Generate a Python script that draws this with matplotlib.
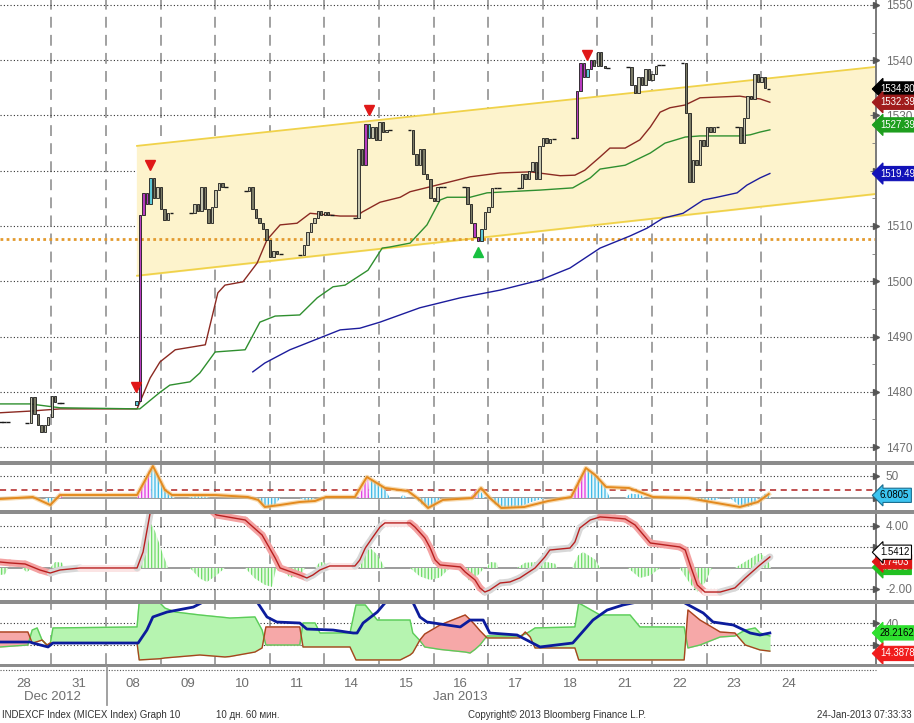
import matplotlib
matplotlib.use("Agg")
import matplotlib.pyplot as plt
from matplotlib.collections import LineCollection
from matplotlib.patches import Rectangle
from matplotlib.lines import Line2D
import numpy as np

W, H = 914, 723

plt.rcParams["font.family"] = ["Liberation Sans Narrow", "Liberation Sans", "DejaVu Sans"]
plt.rcParams["hatch.linewidth"] = 0.9

# ---------------------------------------------------------------- data
day_labels = ["28", "31", "08", "09", "10", "11", "14", "15", "16", "17",
              "18", "21", "22", "23", "24"]

# hourly bars: one list of closes per session (main session + evening ticks)
session_day = [-1, 0, 2, 3, 4, 5, 6, 7, 8, 9, 10, 11, 12, 13]
session_open = [1475.8, 1474.3, 1477.6, 1512.4, 1516.3, 1504.8, 1511.5,
                1527.4, 1517.0, 1516.9, 1525.9, 1538.8, 1539.5, 1528.0]
session_close = [
    [1476.0, 1475.5, 1475.0, 1474.8, 1475.2, 1474.6, 1474.4, 1474.5, 1474.5, 1474.5, 1474.5],
    [1474.3, 1479.0, 1476.0, 1474.0, 1472.8, 1474.0, 1475.5, 1479.3, 1478.2, 1478.0, 1478.0],
    [1478.3, 1512.0, 1516.0, 1514.0, 1518.6, 1515.0, 1517.0, 1513.0, 1511.0, 1512.4, 1512.4],
    [1512.4, 1514.0, 1512.8, 1517.0, 1513.0, 1510.5, 1513.5, 1516.5, 1517.8, 1517.0, 1517.0],
    [1516.3, 1517.0, 1513.0, 1511.5, 1510.5, 1509.5, 1507.5, 1504.3, 1505.5, 1505.0, 1505.0],
    [1504.8, 1506.5, 1509.0, 1510.5, 1511.5, 1512.8, 1512.0, 1512.5, 1512.0, 1512.0],
    [1511.5, 1524.0, 1521.0, 1528.5, 1526.0, 1528.0, 1525.5, 1528.8, 1527.0, 1527.4, 1527.4],
    [1527.4, 1523.0, 1521.0, 1524.0, 1519.5, 1518.5, 1515.0, 1514.5, 1517.0, 1517.0, 1517.0],
    [1517.0, 1514.0, 1510.5, 1508.0, 1507.3, 1509.5, 1512.5, 1513.5, 1516.8, 1516.8, 1516.8],
    [1516.9, 1519.5, 1518.5, 1520.0, 1521.5, 1518.5, 1524.5, 1526.0, 1525.0, 1525.8, 1525.8],
    [1525.9, 1534.5, 1539.5, 1537.0, 1538.5, 1540.0, 1539.0, 1541.5, 1539.0, 1538.6, 1538.6],
    [1538.8, 1535.5, 1534.0, 1537.0, 1535.5, 1538.5, 1536.5, 1537.5, 1539.0, 1539.1, 1539.1],
    [1539.5, 1530.5, 1518.0, 1522.0, 1521.0, 1525.5, 1524.5, 1528.0, 1527.0, 1528.0, 1528.0],
    [1528.0, 1525.0, 1529.5, 1533.5, 1533.0, 1537.5, 1536.0, 1537.0, 1535.0, 1534.8],
]
purple_bars = [(2, 1), (2, 2), (2, 3), (6, 3), (8, 3), (8, 4), (10, 1), (10, 2), (10, 3), (10, 5)]
cyan_bars = [(2, 0), (2, 4), (6, 4), (8, 5), (10, 4)]
signal_down = [(2, 0), (2, 4), (6, 4), (10, 4)]
signal_up = [(8, 4)]

channel_x = [2.07, 15.6]
channel_top = [1524.5, 1538.8]
channel_bottom = [1501.0, 1515.8]
support_level = 1507.6

ma_fast_x = [-0.44, 0.11, 0.66, 2.07, 2.31, 2.49, 2.77, 3.32, 3.55, 3.68, 4.01, 4.27, 4.45,
             4.69, 5.00, 5.24, 5.79, 6.10, 6.19, 6.52, 6.89, 7.07, 7.44, 8.17, 8.72, 9.27,
             9.82, 10.09, 10.27, 10.55, 10.73, 11.01, 11.28, 11.47, 11.65, 11.83, 12.11,
             12.38, 12.75, 13.11, 13.30, 13.48, 13.66]
ma_fast = [1476.2, 1476.5, 1476.9, 1476.9, 1482.5, 1485.4, 1487.6, 1488.5, 1497.9, 1499.3,
           1499.9, 1503.3, 1507.5, 1510.2, 1510.5, 1512.3, 1511.8, 1511.8, 1512.5, 1514.3,
           1515.2, 1516.2, 1517.1, 1518.9, 1519.6, 1519.8, 1519.1, 1519.2, 1520.1, 1522.5,
           1524.1, 1524.1, 1525.6, 1527.9, 1530.6, 1531.4, 1531.9, 1533.2, 1533.35, 1533.5,
           1533.2, 1533.0, 1532.4]
ma_mid_x = [-0.44, 0.11, 0.66, 2.12, 2.49, 2.67, 3.04, 3.22, 3.50, 4.05, 4.32, 4.60, 5.05,
            5.37, 5.66, 5.88, 6.30, 6.56, 6.70, 7.07, 7.38, 7.62, 7.75, 8.17, 8.48, 8.85,
            9.45, 10.05, 10.37, 10.55, 11.01, 11.47, 11.74, 12.11, 12.38, 13.11, 13.30,
            13.48, 13.66]
ma_mid = [1477.8, 1477.8, 1477.1, 1476.9, 1479.9, 1481.2, 1481.8, 1483.4, 1487.2, 1487.6,
          1492.6, 1493.7, 1493.9, 1497.0, 1499.0, 1499.3, 1502.0, 1506.0, 1506.2, 1506.9,
          1510.2, 1514.7, 1515.2, 1515.2, 1516.0, 1516.2, 1516.5, 1516.9, 1518.7, 1520.3,
          1521.0, 1523.2, 1525.0, 1526.1, 1526.3, 1526.3, 1526.5, 1527.0, 1527.4]
ma_slow_x = [4.19, 4.41, 4.87, 5.05, 5.79, 6.15, 6.52, 7.25, 7.99, 8.72, 9.45, 10.00, 10.55,
             11.10, 11.41, 11.70, 12.07, 12.44, 12.69, 13.06, 13.24, 13.48, 13.66]
ma_slow = [1483.6, 1485.2, 1487.6, 1488.3, 1491.2, 1491.5, 1492.6, 1495.2, 1497.0, 1498.4,
           1500.2, 1502.4, 1506.0, 1508.2, 1509.6, 1511.4, 1512.3, 1514.7, 1515.2, 1516.0,
           1517.4, 1518.7, 1519.5]

osc_x = [-0.44, 0.16, 0.48, 0.66, 2.07, 2.22, 2.36, 2.49, 2.58, 2.71, 3.50, 4.10, 4.29, 4.41,
         4.69, 5.05, 5.33, 5.53, 6.06, 6.19, 6.28, 6.43, 6.61, 7.03, 7.25, 7.40, 7.67, 8.21,
         8.37, 8.53, 8.74, 9.16, 9.60, 10.02, 10.18, 10.29, 10.46, 10.66, 11.08, 11.52,
         12.16, 12.58, 13.11, 13.44, 13.64]
osc_line = [-2.3, 2.3, -15.9, 6.8, 6.8, 40.9, 72.7, 40.9, 18.2, 6.8, 6.8, 2.3, -4.5, -20.5,
            -15.9, -9.1, -6.8, 2.3, 2.3, 29.5, 47.7, 36.4, 22.7, 15.9, -4.5, -22.7, -4.5, 0.0,
            22.7, 0.0, -22.7, -20.5, -6.8, 2.3, 40.9, 68.2, 52.3, 25.0, 22.7, 2.3, 0.0, -9.1,
            -20.5, -9.1, 9.1]
osc_hist_x = [0.38, 0.48, 0.59, 2.33, 2.33, 2.45, 2.58, 2.71, 2.77, 3.00, 3.13, 3.32, 3.41,
              4.23, 4.36, 4.47, 4.60, 4.69, 5.05, 5.20, 5.33, 6.32, 6.32, 6.43, 6.61, 6.70,
              6.89, 6.94, 7.01, 7.16, 7.29, 7.44, 7.56, 7.62, 8.32, 8.32, 8.39, 8.44, 8.53,
              8.63, 8.81, 9.08, 9.27, 9.54, 10.31, 10.31, 10.46, 10.64, 10.73, 11.01, 11.10,
              11.28, 11.37, 12.20, 12.38, 12.66, 12.75, 12.93, 13.11, 13.30, 13.39, 13.44,
              13.48, 13.57, 13.66, 13.68]
osc_hist = [0, -16, 0, 0, 72, 50, 15, 5, 0, 0, 4, 3, 0,
            0, -12, -22, -15, 0, 0, -8, 0, 0, 48, 35, 20, 0,
            0, 8, 0, 0, -15, -22, -10, 0, 0, 22, 10, 0, 0,
            -15, -22, -20, -10, 0, 0, 68, 50, 25, 0, 0, 10,
            8, 0, 0, -5, -5, 0, 0, -18, -20, -10, 0,
            0, 10, 5, 0]
osc_up_x = [0.62, 0.66, 0.70, 2.07, 2.22, 2.31, 2.33, 6.12, 6.25, 6.30, 6.32, 8.17, 8.28,
            8.32, 10.00, 10.15, 10.29, 10.31]
osc_up = [0, 18, 0, 0, 40, 70, 0, 0, 35, 48, 0, 0, 20, 0, 0, 40, 68, 0]

macd_x = [-0.44, -0.26, 0.02, 0.29, 0.48, 0.66, 1.03, 2.07, 2.18, 2.31, 2.40, 2.86, 3.32,
          3.52, 4.05, 4.36, 4.60, 4.69, 5.05, 5.18, 5.29, 5.42, 5.60, 6.06, 6.15, 6.25,
          6.39, 6.52, 6.61, 7.07, 7.16, 7.34, 7.44, 7.53, 7.62, 7.99, 8.08, 8.26, 8.35,
          8.44, 8.53, 8.72, 8.90, 9.08, 9.36, 9.54, 9.63, 10.00, 10.09, 10.18, 10.37,
          10.55, 10.82, 11.01, 11.19, 11.47, 12.01, 12.11, 12.20, 12.33, 12.47, 12.75,
          13.02, 13.21, 13.48, 13.66]
macd_line = [0.57, 0.48, 0.38, -0.19, -0.48, -0.19, 0.0, 0.0, 1.52, 5.24, 6.5, 7.0, 6.0,
             5.05, 4.57, 3.14, 0.95, 0.0, -0.67, -0.95, -0.67, -0.19, 0.19, 0.19, 0.76,
             1.90, 2.95, 3.90, 4.29, 4.29, 3.90, 2.86, 1.90, 0.76, 0.29, 0.10, -0.38, -1.14,
             -1.90, -2.29, -2.10, -1.43, -1.33, -0.95, 0.0, 1.05, 1.71, 1.90, 2.48, 3.81,
             4.57, 4.86, 4.76, 4.67, 4.10, 2.38, 2.0, 1.71, 0.29, -1.62, -2.29, -2.29,
             -1.90, -0.95, 0.29, 1.05]
macd_hist_x = [-0.44, -0.35, -0.29, -0.04, 0.05, 0.15, 0.48, 0.57, 0.70, 0.73,
               2.09, 2.18, 2.27, 2.40, 2.53, 2.64, 3.04, 3.22, 3.35, 3.50, 3.68,
               4.05, 4.23, 4.41, 4.54, 4.62, 4.69, 4.87, 5.05, 5.15, 5.33, 5.42, 5.51, 5.57,
               6.15, 6.25, 6.34, 6.48, 6.61, 7.07, 7.25, 7.44, 7.62, 7.80,
               7.99, 8.17, 8.35, 8.42, 8.48, 8.53, 8.66, 8.68, 9.03, 9.18, 9.54, 9.73, 9.76,
               10.04, 10.15, 10.24, 10.46, 10.55, 11.06, 11.28, 11.47, 11.65,
               12.01, 12.20, 12.33, 12.47, 12.60, 13.02, 13.21, 13.48, 13.63, 13.68]
macd_hist = [-0.67, -0.6, 0, 0, -0.4, 0, 0, 0.57, 0.5, 0,
             0, 2.5, 4.76, 3.5, 1.5, 0, 0, -1.0, -1.33, -0.8, 0,
             0, -1.0, -1.6, -1.8, 0, 0, -0.9, -0.8, 0, 0, 0.57, 0.5, 0,
             0, 1.5, 1.9, 1.2, 0, 0, -0.8, -1.14, -0.9, 0,
             0, -1.33, -0.5, 0, 0, 0.57, 0.5, 0, 0, 0.5, 0.6, 0.4, 0,
             0, 1.2, 1.52, 0.8, 0, 0, -0.95, -0.7, 0,
             0, -1.5, -2.29, -1.4, 0, 0, 0.6, 1.43, 0.8, 0]

dmi_x = [-0.44, 0.07, 0.15, 0.24, 0.33, 0.42, 0.48, 0.53, 2.07, 2.11, 2.49, 2.58, 2.77, 3.22,
         3.68, 3.77, 4.23, 4.36, 4.43, 5.05, 5.11, 5.33, 5.42, 5.97, 6.08, 6.25, 6.47, 6.89,
         7.07, 7.12, 7.25, 7.34, 7.62, 7.71, 8.08, 8.17, 8.26, 8.35, 8.48, 9.08, 9.18, 9.27,
         9.36, 10.09, 10.16, 10.55, 11.10, 11.28, 12.09, 12.16, 12.38, 12.75, 13.02, 13.21,
         13.39, 13.48, 13.66]
di_plus = [18.2, 20.0, 33.6, 35.5, 24.5, 20.0, 20.9, 35.5, 36.4, 59.1, 58.2, 53.6, 50.0, 47.3,
           45.0, 44.5, 45.5, 33.6, 20.0, 20.0, 40.0, 40.0, 30.9, 30.9, 56.4, 56.4, 42.7, 42.7,
           42.7, 30.9, 24.0, 18.2, 16.0, 15.5, 13.6, 12.7, 16.0, 20.0, 28.2, 28.2, 30.0, 32.5,
           35.5, 36.4, 58.2, 47.3, 47.3, 36.4, 36.4, 17.3, 20.0, 27.3, 28.2, 33.6, 35.5, 30.9,
           28.2]
di_minus = [31.8, 31.8, 21.8, 23.0, 24.5, 20.0, 21.8, 21.8, 21.8, 6.4, 7.5, 8.2, 9.0, 10.9,
            9.1, 9.5, 13.6, 17.3, 36.4, 36.4, 18.2, 18.2, 18.2, 18.2, 6.4, 6.4, 6.4, 6.4,
            10.9, 13.0, 24.5, 30.0, 38.2, 40.0, 47.3, 43.0, 38.2, 33.0, 26.4, 26.4, 31.8, 27.3,
            17.3, 17.3, 6.4, 6.4, 6.4, 6.4, 6.4, 51.8, 42.7, 31.8, 30.9, 20.0, 17.0, 15.5,
            14.4]
adx_x = [-0.44, 0.11, 0.16, 0.44, 0.53, 2.09, 2.25, 2.36, 2.62, 3.10, 3.28, 3.77, 4.27, 4.45,
         4.63, 5.05, 5.18, 5.66, 6.03, 6.10, 6.21, 6.47, 6.61, 6.89, 7.12, 7.25, 7.38, 7.99,
         8.17, 8.41, 8.53, 9.03, 9.45, 10.05, 10.42, 10.68, 10.97, 11.23, 11.65, 12.07,
         12.44, 12.62, 12.99, 13.30, 13.48, 13.66]
adx = [22.7, 22.7, 21.8, 18.2, 21.8, 21.8, 33.6, 45.5, 50.0, 54.5, 59.1, 63.0, 59.1, 45.5,
       40.9, 40.0, 34.5, 33.6, 30.9, 30.9, 40.0, 50.0, 58.2, 63.0, 59.1, 45.5, 40.9, 36.4,
       42.7, 42.7, 30.9, 29.1, 18.2, 21.8, 42.7, 51.8, 56.4, 59.1, 63.0, 59.1, 49.1, 40.9,
       38.2, 30.9, 29.1, 30.9]

# ---------------------------------------------------------------- layout
X_MIN, X_MAX = -0.44, 15.604
AX_RIGHT = 876
GRID_GRAY = "#9a9a9a"
LABEL_GRAY = "#6e6e6e"

fig = plt.figure(figsize=(W / 100, H / 100), dpi=100)


def add_panel(top, bottom):
    ax = fig.add_axes([0, 1 - bottom / H, AX_RIGHT / W, (bottom - top) / H])
    for side in ("left", "top", "bottom"):
        ax.spines[side].set_visible(False)
    ax.spines["right"].set_color("#7a7a7a")
    ax.spines["right"].set_linewidth(1.4)
    ax.yaxis.tick_right()
    ax.tick_params(axis="x", length=0, labelbottom=False)
    ax.tick_params(axis="y", direction="in", length=4, color="#7a7a7a",
                   labelsize=8.5, labelcolor=LABEL_GRAY, pad=7)
    for d in range(14):
        ax.axvline(d + 0.5, color=GRID_GRAY, lw=1.3, ls=(0, (6, 4)), zorder=0)
    return ax


def tick_arrows(ax, levels):
    ax.plot([1.0] * len(levels), levels, ">", color="#555555", ms=4,
            transform=ax.get_yaxis_transform(), clip_on=False, zorder=6)


def dotted(ax, levels):
    for lv in levels:
        ax.axhline(lv, color="#333333", lw=0.8, ls=(0, (1, 2)), zorder=0)


def value_tag(ax, value, text, face, color, edge=None):
    ax.text(1 + 4 / AX_RIGHT, value, text, transform=ax.get_yaxis_transform(),
            ha="left", va="center", fontsize=6.9, color=color, clip_on=False, zorder=8,
            bbox=dict(boxstyle="larrow,pad=0.22", fc=face, ec=edge or face, lw=0.8))


# ---------------------------------------------------------------- price panel
ax1 = add_panel(0, 461)
ax1.set_yticks(range(1470, 1551, 10))
ax1.set_yticks(range(1470, 1551, 5), minor=True)
ax1.tick_params(axis="y", which="minor", direction="in", length=3, color="#7a7a7a")
ax1.set_ylim(1467.47, 1550.9)
ax1.set_xlim(X_MIN, X_MAX)
dotted(ax1, range(1470, 1551, 10))
tick_arrows(ax1, list(range(1470, 1551, 10)))

ax1.fill_between(channel_x, channel_bottom, channel_top, color="#fdf3cc", zorder=1)
ax1.plot(channel_x, channel_top, color="#f0d24a", lw=1.3, zorder=2)
ax1.plot(channel_x, channel_bottom, color="#f0d24a", lw=1.3, zorder=2)
ax1.axhline(support_level, color="#e39a2e", lw=2, ls=(0, (1, 1.2)), zorder=2)

ax1.plot(ma_fast_x, ma_fast, color="#8b2a22", lw=1.0, zorder=3)
ax1.plot(ma_mid_x, ma_mid, color="#2f8f2f", lw=1.0, zorder=3)
ax1.plot(ma_slow_x, ma_slow, color="#1c1c9c", lw=1.0, zorder=3)

bar_pos = {}
for day, op, closes in zip(session_day, session_open, session_close):
    prev = op
    for k, c in enumerate(closes):
        x = day + 0.06 + 0.064 * k
        bar_pos[(day, k)] = (x, max(prev, c), min(prev, c))
        if abs(c - prev) < 0.25:
            ax1.hlines(c, x - 0.035, x + 0.035, color="#1a1a1a", lw=1.0, zorder=4)
        else:
            if (day, k) in purple_bars:
                face = "#b83cc0"
            elif (day, k) in cyan_bars:
                face = "#5cc8d8"
            elif c > prev:
                face = "#c4c4ae"
            else:
                face = "#7a7a66"
            ax1.bar(x, c - prev, bottom=prev, width=0.045, color=face,
                    edgecolor="#1a1a1a", lw=0.6, zorder=4)
        prev = c

for key in signal_down:
    x, hi, lo = bar_pos[key]
    ax1.plot(x, hi + 2.5, "v", color="#e01818", ms=7, zorder=5)
for key in signal_up:
    x, hi, lo = bar_pos[key]
    ax1.plot(x, lo - 2.0, "^", color="#18c040", ms=7, zorder=5)

value_tag(ax1, 1534.80, "1534.80", "#000000", "white")
value_tag(ax1, 1532.39, "1532.39", "#a01c1c", "white")
value_tag(ax1, 1528.3, "1527.39", "#1e9e1e", "white")
value_tag(ax1, 1519.49, "1519.49", "#1212b8", "white")

# ---------------------------------------------------------------- oscillator panel
ax2 = add_panel(465, 510)
ax2.set_yticks([50])
ax2.set_yticklabels(["50"])
ax2.set_ylim(-27.3, 75)
ax2.set_xlim(X_MIN, X_MAX)
dotted(ax2, [50])
tick_arrows(ax2, [50, 0])
ax2.axhline(0, color="#8a8a8a", lw=1.2, zorder=1)
ax2.axhline(18, color="#b02020", lw=1.1, ls=(0, (4, 3)), zorder=1)
ax2.fill_between(osc_hist_x, 0, osc_hist, facecolor="#e8f8fc", edgecolor="#3cb8e6",
                 hatch="|||||", lw=0, zorder=2)
ax2.fill_between(osc_up_x, 0, osc_up, facecolor="#fbe6fb", edgecolor="#e03ce0",
                 hatch="|||||", lw=0, zorder=2)
ax2.plot(osc_x, osc_line, color="#f3c27a", lw=3.2, alpha=0.6, zorder=3)
ax2.plot(osc_x, osc_line, color="#e48a1e", lw=1.4, zorder=3)
value_tag(ax2, 6.0805, "6.0805", "#3cc4f0", "black", edge="#1a6e90")

# ---------------------------------------------------------------- MACD panel
ax3 = add_panel(514, 600)
ax3.set_yticks([4, 2, -2])
ax3.set_yticklabels(["4.00", "", "-2.00"])
ax3.set_ylim(-3.05, 5.14)
ax3.set_xlim(X_MIN, X_MAX)
dotted(ax3, [4, 2, -2])
tick_arrows(ax3, [4, 2, -2])
ax3.axhline(0, color="#8a8a8a", lw=1.2, zorder=1)
ax3.fill_between(macd_hist_x, 0, macd_hist, facecolor="#e8fae6", edgecolor="#6edc68",
                 hatch="|||||", lw=0, zorder=2)
pts = np.column_stack([macd_x, macd_line])
segs = np.stack([pts[:-1], pts[1:]], axis=1)
slope = np.diff(macd_line)
ribbon = ["#f4a2a2" if s < -0.05 else "#d8d8d8" if s > 0.05 else "#fbe4e4" for s in slope]
ax3.add_collection(LineCollection(segs, colors=ribbon, linewidths=5, capstyle="round",
                                  zorder=3))
ax3.plot(macd_x, macd_line, color="#b82020", lw=1.0, zorder=4)
value_tag(ax3, 0.05, "0.8595", "#22c022", "white")
value_tag(ax3, 0.6, "0.7403", "#e01818", "white")
value_tag(ax3, 1.5, "1.5412", "white", "black", edge="black")

# ---------------------------------------------------------------- DMI panel
ax4 = add_panel(604, 664)
ax4.set_yticks([40, 20])
ax4.set_yticklabels(["40", ""])
ax4.set_ylim(2.7, 57.3)
ax4.set_xlim(X_MIN, X_MAX)
dotted(ax4, [40, 20])
tick_arrows(ax4, [40, 20])
plus = np.array(di_plus)
minus = np.array(di_minus)
ax4.fill_between(dmi_x, minus, plus, where=plus >= minus, interpolate=True,
                 color="#b6f4b0", zorder=1)
ax4.fill_between(dmi_x, minus, plus, where=plus < minus, interpolate=True,
                 color="#f6a8a8", zorder=1)
ax4.plot(dmi_x, plus, color="#5ccc5a", lw=1.0, zorder=2)
ax4.plot(dmi_x, minus, color="#a8441e", lw=1.0, zorder=2)
ax4.plot(adx_x, adx, color="#0c1c9c", lw=2.0, zorder=3)
value_tag(ax4, 31.0, "28.2162", "#2ee02e", "black")
value_tag(ax4, 12.3, "14.3878", "#f01c1c", "white")

ax4.set_xticks(range(len(day_labels)))
ax4.set_xticklabels(day_labels)
ax4.tick_params(axis="x", labelbottom=True, length=0, pad=10, labelsize=9.5,
                labelcolor=LABEL_GRAY)
ax4.set_xlim(X_MIN, X_MAX)

# ---------------------------------------------------------------- separators and footer
for y0, y1 in [(461, 465), (510, 514), (600, 604), (664, 667)]:
    fig.add_artist(Rectangle((0, 1 - y1 / H), 1, (y1 - y0) / H, transform=fig.transFigure,
                             fc="#8c8c8c", ec="none", zorder=10))
fig.add_artist(Line2D([0, AX_RIGHT / W], [1 - 669.5 / H] * 2, transform=fig.transFigure,
                      color="#555555", lw=0.8, ls=(0, (1, 1.5)), zorder=10))
fig.add_artist(Line2D([107 / W] * 2, [1 - 667 / H, 1 - 705 / H], transform=fig.transFigure,
                      color=GRID_GRAY, lw=1.3, zorder=10))

fig.text(52 / W, 1 - 697 / H, "Dec 2012", ha="center", va="center", fontsize=9.5,
         color=LABEL_GRAY)
fig.text(460 / W, 1 - 697 / H, "Jan 2013", ha="center", va="center", fontsize=9.5,
         color=LABEL_GRAY)
fig.text(2 / W, 1 - 715 / H, "INDEXCF Index (MICEX Index) Graph 10", ha="left",
         va="center", fontsize=7, color="#333333")
fig.text(216 / W, 1 - 715 / H, "10 дн. 60 мин.", ha="left", va="center", fontsize=7,
         color="#333333")
fig.text(468 / W, 1 - 715 / H, "Copyright© 2013 Bloomberg Finance L.P.", ha="left",
         va="center", fontsize=7, color="#333333")
fig.text(912 / W, 1 - 715 / H, "24-Jan-2013 07:33:33", ha="right", va="center",
         fontsize=7, color="#333333")

fig.savefig("out.png", dpi=100)
